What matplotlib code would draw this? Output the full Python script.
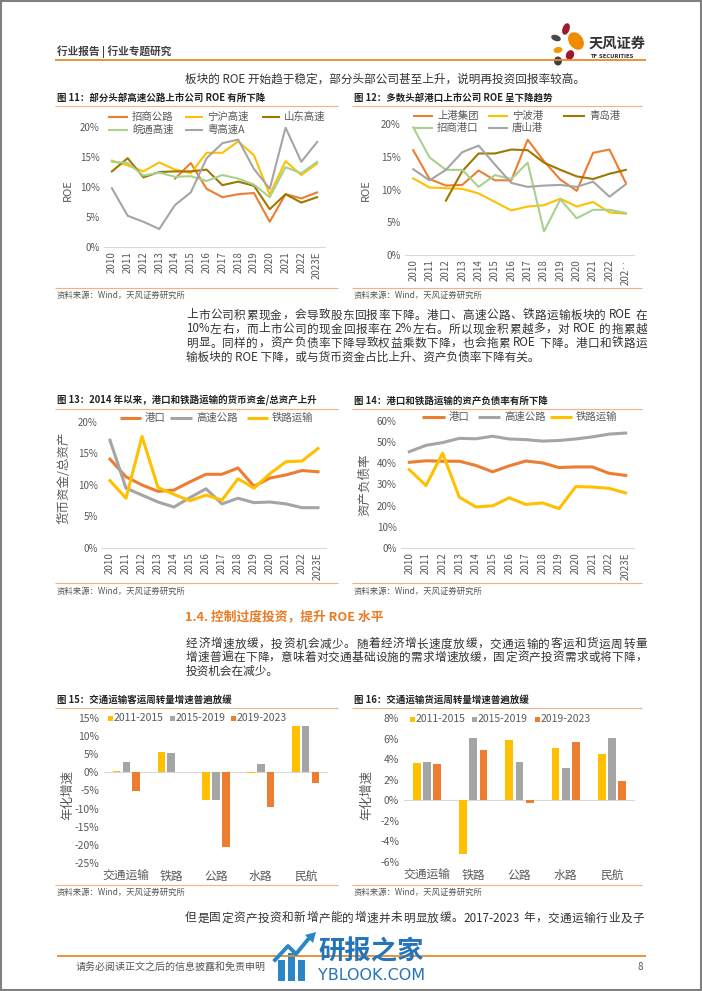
import re
import numpy as np
import matplotlib
matplotlib.use('Agg')
import matplotlib.pyplot as plt
from matplotlib.patches import Ellipse, Rectangle, Polygon
from matplotlib.font_manager import FontProperties

plt.rcParams['font.family'] = ['Noto Sans CJK SC', 'DejaVu Sans']
plt.rcParams['axes.unicode_minus'] = False

W, H = 702, 991

# ---------------- 数据 ----------------
years = ['2010', '2011', '2012', '2013', '2014', '2015', '2016', '2017',
         '2018', '2019', '2020', '2021', '2022', '2023E']
years_port = years[:-1] + ['202‥']
nan = np.nan

# 图 11 高速公路 ROE (%)
roe_zs = [nan, nan, nan, nan, 11.4, 14.0, 9.7, 8.3, 8.8, 9.0, 4.2, 8.8, 8.1, 9.1]
roe_nh = [14.4, 13.6, 12.6, 14.1, 12.9, 12.3, 15.7, 15.7, 17.6, 15.3, 8.7, 14.3, 12.0, 13.9]
roe_sd = [12.6, 14.8, 11.6, 12.5, 12.6, 12.6, 12.9, 10.3, 10.9, 10.2, 6.3, 8.8, 7.4, 8.3]
roe_wt = [14.2, 14.0, 11.9, 12.4, 11.7, 11.8, 11.0, 12.0, 11.4, 10.4, 8.3, 13.3, 12.3, 14.2]
roe_yg = [9.8, 5.2, 4.2, 3.0, 7.0, 9.1, 14.8, 17.3, 17.9, 13.0, 9.7, 19.9, 14.2, 17.5]

# 图 12 港口 ROE (%)
roe_sg = [16.0, 11.6, 10.6, 10.7, 12.9, 11.4, 11.4, 17.6, 14.3, 11.5, 9.8, 15.6, 16.1, 11.0]
roe_nb = [11.7, 10.3, 10.2, 10.1, 9.4, 8.1, 6.8, 7.4, 7.6, 8.6, 7.4, 8.1, 6.5, 6.3]
roe_qd = [nan, nan, 8.3, 12.8, 15.5, 15.5, 16.1, 16.0, 14.1, 13.0, 12.0, 11.6, 12.4, 13.0]
roe_zg = [19.5, 14.9, 13.0, 13.0, 10.4, 12.2, 11.6, 14.1, 3.6, 8.5, 5.6, 6.9, 6.9, 6.4]
roe_ts = [13.1, 11.4, 13.0, 15.7, 16.7, 13.8, 11.0, 10.4, 10.6, 10.7, 10.4, 11.2, 8.9, 10.8]

# 图 13 货币资金/总资产 (%)
cash_port = [14.1, 11.3, 10.0, 9.0, 9.2, 10.5, 11.7, 11.7, 12.7, 9.8, 11.1, 11.6, 12.3, 12.1]
cash_hw = [17.1, 9.5, 8.4, 7.3, 6.5, 8.0, 9.4, 7.0, 7.9, 7.2, 7.3, 7.0, 6.4, 6.4]
cash_rail = [10.7, 7.9, 17.7, 9.6, 8.5, 7.5, 8.4, 7.6, 11.0, 9.5, 11.8, 13.7, 13.8, 15.8]

# 图 14 资产负债率 (%)
debt_port = [40.5, 41.2, 41.0, 41.0, 39.0, 36.0, 38.8, 41.1, 40.2, 38.0, 38.3, 38.3, 35.3, 34.3]
debt_hw = [45.5, 48.5, 49.8, 51.8, 51.6, 52.8, 51.5, 51.2, 50.5, 50.8, 51.5, 52.5, 53.8, 54.3]
debt_rail = [37.0, 29.5, 44.8, 24.0, 19.4, 19.9, 23.7, 20.6, 21.3, 18.6, 29.0, 28.8, 28.2, 26.0]

# 图 15 / 16 年化增速 (%)
modes = ['交通运输', '铁路', '公路', '水路', '民航']
periods = ['2011-2015', '2015-2019', '2019-2023']
pax_a = [0.5, 5.6, -7.5, -0.2, 12.7]
pax_b = [2.9, 5.3, -7.6, 2.3, 12.7]
pax_c = [-5.1, 0.0, -20.6, -9.5, -3.0]
frt_a = [3.6, -5.2, 5.9, 5.1, 4.5]
frt_b = [3.7, 6.1, 3.7, 3.1, 6.1]
frt_c = [3.5, 4.9, -0.3, 5.7, 1.9]

C_OR = '#ED7D31'
C_YE = '#FFC000'
C_GR = '#A5A5A5'
C_DG = '#9E7800'
C_GN = '#A9D18E'
C_TXT = '#595959'
C_LINE = '#F4B183'
FAM = ['Noto Sans CJK SC', 'DejaVu Sans']

fig = plt.figure(figsize=(W / 100, H / 100), dpi=100)
fig.patch.set_facecolor('white')
renderer = fig.canvas.get_renderer()

# 背景层：像素坐标
bg = fig.add_axes([0, 0, 1, 1])
bg.set_xlim(0, W)
bg.set_ylim(H, 0)
bg.axis('off')


def T(x, y, s, **kw):
    kw.setdefault('va', 'center')
    kw.setdefault('color', '#333333')
    bg.text(x, y, s, **kw)


def text_w(s, size):
    fp = FontProperties(family=FAM, size=size)
    w, _, _ = renderer.get_text_width_height_descent(s, fp, ismath=False)
    return w


def justify(x0, x1, y, s, size=8.4, color='#333333'):
    # 两端对齐：汉字逐字、西文成段放置，多余空间均分
    toks = re.findall(r'[!-~]+| +|[^\x00-\x7f]', s)
    sp = text_w('x x', size) - text_w('xx', size)
    widths = [sp * len(t) if t.strip() == '' else text_w(t, size) for t in toks]
    extra = (x1 - x0) - sum(widths)
    gap = extra / (len(toks) - 1)
    x = x0
    for t, w in zip(toks, widths):
        if t.strip():
            T(x, y, t, fontsize=size, color=color)
        x += w + gap


def hline(x0, x1, y, color=C_LINE, lw=0.8):
    bg.plot([x0, x1], [y, y], color=color, lw=lw, solid_capstyle='butt')


def box(x0, y0, x1, y1):
    return [x0 / W, 1 - y1 / H, (x1 - x0) / W, (y1 - y0) / H]


def leg_line(x0, x1, y, color, label, lw=1.5):
    bg.plot([x0, x1], [y, y], color=color, lw=lw, solid_capstyle='butt')
    T(x1 + 4, y, label, fontsize=7.5, color=C_TXT)


def leg_square(x, y, color, label):
    bg.add_patch(Rectangle((x - 2.5, y - 2.5), 5, 5, color=color, lw=0))
    T(x + 4, y, label, fontsize=7.5, color=C_TXT)


def line_axes(rect, ylim, yticks, xlabels):
    ax = fig.add_axes(box(*rect))
    ax.set_facecolor('none')
    for s in ['top', 'right', 'left']:
        ax.spines[s].set_visible(False)
    ax.spines['bottom'].set_color('#D9D9D9')
    ax.set_xlim(-0.5, len(xlabels) - 0.5)
    ax.set_ylim(*ylim)
    ax.set_xticks(range(len(xlabels)))
    ax.set_xticklabels(xlabels, rotation=90)
    ax.set_yticks(yticks)
    ax.set_yticklabels([f'{t}%' for t in yticks])
    ax.tick_params(length=0, labelsize=7, labelcolor=C_TXT, pad=3)
    return ax


def bar_axes(rect, ylim, yticks, a, b, c):
    ax = fig.add_axes(box(*rect))
    ax.set_facecolor('none')
    for s in ax.spines.values():
        s.set_visible(False)
    x = np.arange(len(modes))
    w, d = 0.17, 0.22
    ax.bar(x - d, a, w, color=C_YE)
    ax.bar(x, b, w, color=C_GR)
    ax.bar(x + d, c, w, color=C_OR)
    ax.axhline(0, color='#D9D9D9', lw=0.8, zorder=0)
    ax.set_xlim(-0.5, len(modes) - 0.5)
    ax.set_ylim(*ylim)
    ax.set_xticks(x)
    ax.set_xticklabels(modes)
    ax.set_yticks(yticks)
    ax.set_yticklabels([f'{t}%' for t in yticks])
    ax.tick_params(length=0, labelsize=7.5, labelcolor=C_TXT)
    ax.tick_params(axis='x', labelsize=8.5, pad=5)
    return ax


def source(x, y):
    T(x, y, '资料来源：Wind，天风证券研究所', fontsize=6, color='#555555')


def title(x, y, s):
    T(x, y, s, fontsize=6.8, fontweight='bold', color='#222222')


# ---------------- 页眉 ----------------
T(57, 52, '行业报告 | 行业专题研究', fontsize=7.7, fontweight='bold', color='#404040')
hline(55, 646, 60, color='#E8892B', lw=1.3)
for (cx, cy, w, h, ang, col) in [(566, 29, 7, 12, 20, '#A0182B'),
                                 (556, 38, 10, 6, 20, '#4A4A4A'),
                                 (576, 41, 14, 19, -35, '#F08A00'),
                                 (558, 50, 9, 6, -10, '#F39800'),
                                 (570, 55, 8, 10, 25, '#A0182B'),
                                 (558, 61, 8, 9, 0, '#404040')]:
    bg.add_patch(Ellipse((cx, cy), w, h, angle=ang, color=col, lw=0))
T(589, 44, '天风证券', fontsize=10.3, fontweight='bold', color='#333333')
T(590, 56, 'TF SECURITIES', fontsize=3.8, fontweight='bold', color='#333333',
  family='DejaVu Sans')

T(185, 79, '板块的 ROE 开始趋于稳定，部分头部公司甚至上升，说明再投资回报率较高。',
  fontsize=8.4)

# ---------------- 图 11 / 12 ----------------
title(57, 98, '图 11：部分头部高速公路上市公司 ROE 有所下降')
title(354, 98, '图 12：多数头部港口上市公司 ROE 呈下降趋势')
hline(55, 338, 106)
hline(352, 642, 106)

ax11 = line_axes((104, 127, 325, 247), (0, 20), [0, 5, 10, 15, 20], years)
for ser, col in [(roe_zs, C_OR), (roe_nh, C_YE), (roe_sd, C_DG), (roe_wt, C_GN), (roe_yg, C_GR)]:
    ax11.plot(range(len(years)), ser, color=col, lw=1.5)
T(68, 190, 'ROE', fontsize=8, color=C_TXT, rotation=90, ha='center')
leg_line(108, 128, 117, C_OR, '招商公路')
leg_line(185, 203, 117, C_YE, '宁沪高速')
leg_line(262, 280, 117, C_DG, '山东高速')
leg_line(108, 128, 130, C_GN, '皖通高速')
leg_line(185, 203, 130, C_GR, '粤高速A')

ax12 = line_axes((405, 124, 634, 255), (0, 20), [0, 5, 10, 15, 20], years_port)
for ser, col in [(roe_sg, C_OR), (roe_nb, C_YE), (roe_qd, C_DG), (roe_zg, C_GN), (roe_ts, C_GR)]:
    ax12.plot(range(len(years_port)), ser, color=col, lw=1.5)
T(366, 190, 'ROE', fontsize=8, color=C_TXT, rotation=90, ha='center')
leg_line(413, 433, 116, C_OR, '上港集团')
leg_line(488, 508, 116, C_YE, '宁波港')
leg_line(563, 585, 116, C_DG, '青岛港')
leg_line(413, 433, 128, C_GN, '招商港口')
leg_line(488, 508, 128, C_GR, '唐山港')

hline(55, 338, 288)
hline(352, 642, 288)
source(57, 295)
source(354, 295)

# ---------------- 正文 ----------------
para1 = ['上市公司积累现金，会导致股东回报率下降。港口、高速公路、铁路运输板块的 ROE 在',
         '10%左右，而上市公司的现金回报率在 2%左右。所以现金积累越多，对 ROE 的拖累越',
         '明显。同样的，资产负债率下降导致权益乘数下降，也会拖累 ROE 下降。港口和铁路运',
         '输板块的 ROE 下降，或与货币资金占比上升、资产负债率下降有关。']
for i, s in enumerate(para1):
    if i < len(para1) - 1:
        justify(186, 647, 315 + 14 * i, s)
    else:
        T(186, 315 + 14 * i, s, fontsize=8.4)

# ---------------- 图 13 / 14 ----------------
title(57, 401, '图 13：2014 年以来，港口和铁路运输的货币资金/总资产上升')
title(354, 401, '图 14：港口和铁路运输的资产负债率有所下降')
hline(55, 338, 409)
hline(352, 642, 409)

ax13 = line_axes((102, 422, 326, 548), (0, 20), [0, 5, 10, 15, 20], years)
for ser, col in [(cash_port, C_OR), (cash_hw, C_GR), (cash_rail, C_YE)]:
    ax13.plot(range(len(years)), ser, color=col, lw=2.2)
T(64, 478, '货币资金/总资产', fontsize=9, color=C_TXT, rotation=90, ha='center')
leg_line(120, 141, 418, C_OR, '港口', lw=2.2)
leg_line(170, 192, 418, C_GR, '高速公路', lw=2.2)
leg_line(247, 268, 418, C_YE, '铁路运输', lw=2.2)

ax14 = line_axes((401, 421, 634, 548), (0, 60), [0, 10, 20, 30, 40, 50, 60], years)
for ser, col in [(debt_port, C_OR), (debt_hw, C_GR), (debt_rail, C_YE)]:
    ax14.plot(range(len(years)), ser, color=col, lw=2.2)
T(365, 485, '资产负债率', fontsize=9, color=C_TXT, rotation=90, ha='center')
leg_line(422, 445, 417, C_OR, '港口', lw=2.2)
leg_line(478, 500, 417, C_GR, '高速公路', lw=2.2)
leg_line(550, 572, 417, C_YE, '铁路运输', lw=2.2)

hline(55, 338, 583)
hline(352, 642, 583)
source(57, 591)
source(354, 591)

# ---------------- 1.4 ----------------
T(185, 617, '1.4. 控制过度投资，提升 ROE 水平', fontsize=9.2, fontweight='bold', color='#E97B25')
para2 = ['经济增速放缓，投资机会减少。随着经济增长速度放缓，交通运输的客运和货运周转量',
         '增速普遍在下降，意味着对交通基础设施的需求增速放缓，固定资产投资需求或将下降，',
         '投资机会在减少。']
for i, s in enumerate(para2):
    if i < len(para2) - 1:
        justify(186, 647, 644 + 13.5 * i, s)
    else:
        T(186, 644 + 13.5 * i, s, fontsize=8.4)

# ---------------- 图 15 / 16 ----------------
title(57, 700, '图 15：交通运输客运周转量增速普遍放缓')
title(354, 700, '图 16：交通运输货运周转量增速普遍放缓')
hline(55, 338, 708)
hline(352, 642, 708)

ax15 = bar_axes((104, 718, 328, 863), (-25, 15), list(range(-25, 20, 5)), pax_a, pax_b, pax_c)
T(68, 795, '年化增速', fontsize=9, color=C_TXT, rotation=90, ha='center')
for (x, col, lab) in [(110, C_YE, periods[0]), (172, C_GR, periods[1]), (233, C_OR, periods[2])]:
    leg_square(x, 718, col, lab)

ax16 = bar_axes((404, 718, 635, 862), (-6, 8), list(range(-6, 10, 2)), frt_a, frt_b, frt_c)
T(367, 795, '年化增速', fontsize=9, color=C_TXT, rotation=90, ha='center')
for (x, col, lab) in [(412, C_YE, periods[0]), (474, C_GR, periods[1]), (537, C_OR, periods[2])]:
    leg_square(x, 719, col, lab)

hline(55, 338, 885)
hline(352, 642, 885)
source(57, 892)
source(354, 892)

# ---------------- 页脚 ----------------
justify(185, 644, 918, '但是固定资产投资和新增产能的增速并未明显放缓。2017-2023 年，交通运输行业及子')
hline(57, 646, 956, color='#E8892B', lw=1.3)
T(76, 967, '请务必阅读正文之后的信息披露和免责申明', fontsize=7.2, color='#555555')
T(638, 967, '8', fontsize=7, color='#555555')

# 水印
C_WM = '#2B86C5'
for (x0, top) in [(278, 960), (288, 953), (298, 960)]:
    bg.add_patch(Rectangle((x0, top), 7, 981 - top, color=C_WM, lw=0))
bg.plot([275, 288, 296, 310], [960, 946, 954, 937], color=C_WM, lw=2.8)
bg.add_patch(Polygon([[305, 935], [316, 932], [313, 943]], color=C_WM, lw=0))
T(318, 952, '研报之家', fontsize=19, color='#2374B8', fontweight='bold')
T(318, 975, 'YBLOOK.COM', fontsize=11.5, color='#2374B8', family='DejaVu Sans')

bg.add_patch(Rectangle((0.8, 0.8), W - 1.6, H - 1.6, fill=False, edgecolor='#808080', lw=1.5))

fig.savefig('out.png', dpi=100, facecolor='white')
